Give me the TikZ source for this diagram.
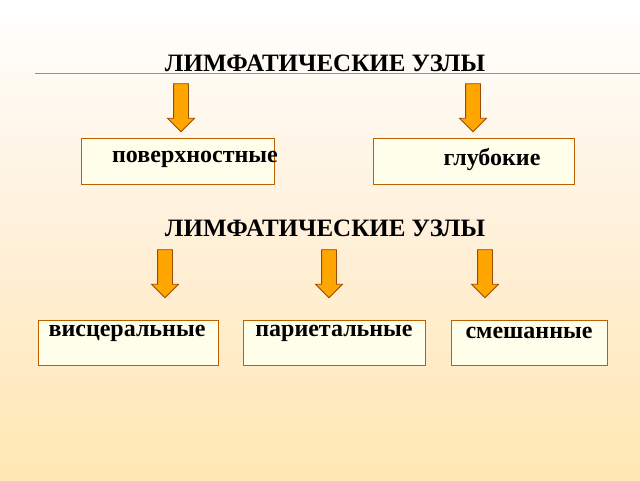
\documentclass[tikz,border=0pt]{standalone}
\usepackage{fontspec}
\setmainfont{Liberation Serif}
\usetikzlibrary{shapes.arrows}

\begin{document}
\begin{tikzpicture}[x=1pt, y=-1pt]
                  \tikzstyle{downarrow}=[single arrow, draw=orange!60!black, fill=orange!70!yellow, rotate=-90,
                      minimum height=48pt, inner sep=7pt, single arrow head extend=6pt, single arrow head indent=0pt, line width=0.8pt]
                  \tikzstyle{kind}=[draw=orange!75!black, line width=1pt, fill=yellow!8]
                  \tikzstyle{word}=[font=\bfseries\fontsize{24}{28}\selectfont]
                  \tikzstyle{title}=[font=\bfseries\fontsize{25}{30}\selectfont]

                  \shade[top color=white, bottom color=yellow!40!orange!30, middle color=yellow!20!orange!15] (0,0) rectangle (640,480);
                  \useasboundingbox (0,0) rectangle (640,480);
                  \draw[orange!55!brown, line width=1pt] (35,73) -- (640,73);

                  \node[title] (t1) at (325,63) {ЛИМФАТИЧЕСКИЕ УЗЛЫ};
                  \node[downarrow] (a1) at (181,104) {};
                  \node[downarrow] (a2) at (473,104) {};
                  \draw[kind] (81,138) rectangle (274,184);
                  \draw[kind] (373,138) rectangle (574,184);
                  \node[word] (b1) at (195,159) {поверхностные};
                  \node[word] (b2) at (492,159) {глубокие};

                  \node[title] (t2) at (325,228) {ЛИМФАТИЧЕСКИЕ УЗЛЫ};
                  \node[downarrow] (a3) at (165,270) {};
                  \node[downarrow] (a4) at (329,270) {};
                  \node[downarrow] (a5) at (485,270) {};
                  \draw[kind] (38,320) rectangle (218,365);
                  \draw[kind] (243,320) rectangle (425,365);
                  \draw[kind] (451,320) rectangle (607,365);
                  \node[word] (c1) at (127,333) {висцеральные};
                  \node[word] (c2) at (334,333) {париетальные};
                  \node[word] (c3) at (529,333) {смешанные};
\end{tikzpicture}
\end{document}
